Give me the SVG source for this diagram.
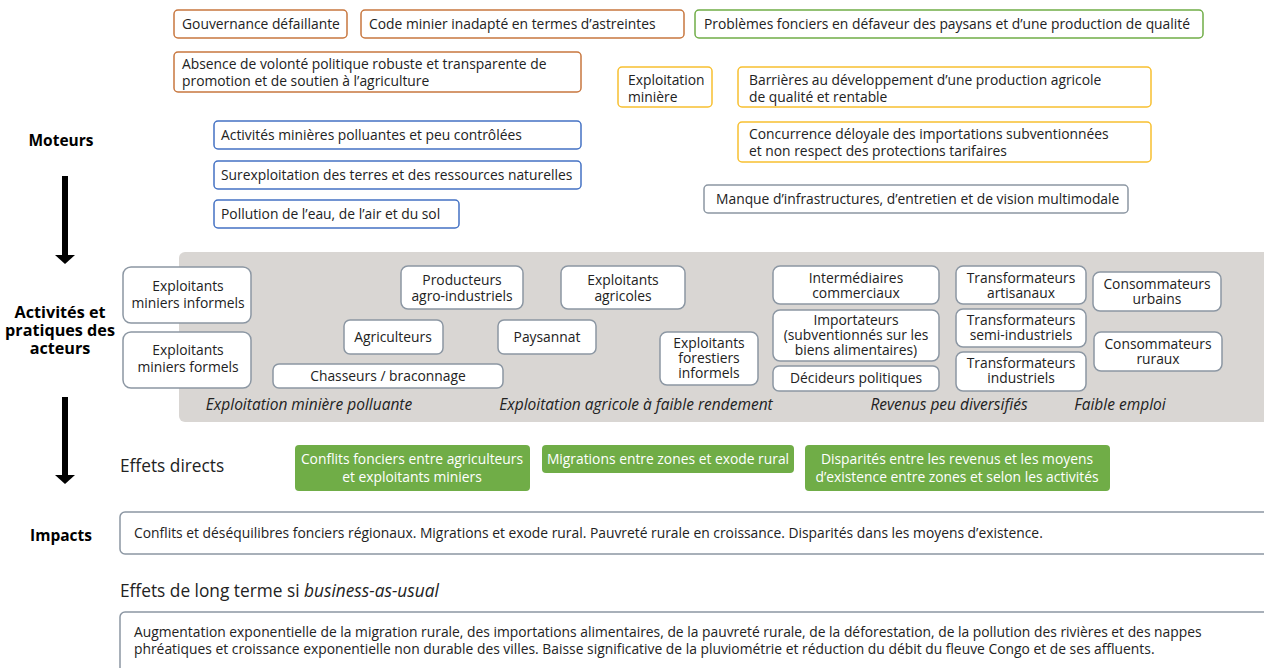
<svg xmlns="http://www.w3.org/2000/svg" width="1264" height="668" viewBox="0 0 1264 668">
  <defs>
    <style>
      text { font-family: "Open Sans", "Noto Sans", "DejaVu Sans", sans-serif; font-size: 13.85px; fill: #222222; }
      .lbl { font-weight: bold; font-size: 15.5px; fill: #000; text-anchor: middle; }
      .lbl2 { font-weight: bold; font-size: 16.2px; fill: #000; text-anchor: middle; }
      .sec { font-size: 17.3px; fill: #222222; }
      .ctr { text-anchor: middle; }
      .ital { font-style: italic; font-size: 15.5px; text-anchor: middle; }
      .wht { fill: #ffffff; }
      .box { fill: #ffffff; stroke-width: 1.5; }
      .orange { stroke: #c8773f; }
      .green { stroke: #70ad47; }
      .yellow { stroke: #f8c030; }
      .blue { stroke: #4472c4; }
      .slate { stroke: #8c97a3; }
      .actor { fill: #ffffff; stroke: #8c97a3; stroke-width: 1.5; }
      .effect { fill: #70ad47; }
      .band { fill: #d9d6d3; }
      .flow { stroke: #000; stroke-width: 6; fill: none; }
    </style>
    <marker id="head" viewBox="0 0 9 20" refX="0" refY="10" markerWidth="9" markerHeight="20" markerUnits="userSpaceOnUse" orient="auto">
      <path d="M0 0 L9 10 L0 20 Z" fill="#000"/>
    </marker>
  </defs>

  <rect x="0" y="0" width="1264" height="668" fill="#ffffff"/>

  <!-- row labels -->
  <g id="labels">
    <text class="lbl" x="61" y="146">Moteurs</text>
    <text class="lbl2" x="60" y="318">Activités et</text>
    <text class="lbl2" x="60" y="336">pratiques des</text>
    <text class="lbl2" x="60" y="354">acteurs</text>
    <text class="lbl" x="61" y="541">Impacts</text>
  </g>

  <!-- downward flow arrows -->
  <g id="connectors">
    <line class="flow" x1="65" y1="176" x2="65" y2="255" marker-end="url(#head)"/>
    <line class="flow" x1="65" y1="397" x2="65" y2="475" marker-end="url(#head)"/>
  </g>

  <!-- drivers -->
  <g id="n-gouvernance">
    <rect class="box orange" x="174" y="10" width="173" height="28" rx="4"/>
    <text x="182" y="29">Gouvernance défaillante</text>
  </g>
  <g id="n-code-minier">
    <rect class="box orange" x="361" y="10" width="323" height="28" rx="4"/>
    <text x="369" y="29">Code minier inadapté en termes d’astreintes</text>
  </g>
  <g id="n-fonciers">
    <rect class="box green" x="695" y="10" width="508" height="28" rx="4"/>
    <text x="704" y="29">Problèmes fonciers en défaveur des paysans et d’une production de qualité</text>
  </g>
  <g id="n-volonte">
    <rect class="box orange" x="174" y="52" width="407" height="40" rx="4"/>
    <text x="182" y="69">Absence de volonté politique robuste et transparente de</text>
    <text x="182" y="86">promotion et de soutien à l’agriculture</text>
  </g>
  <g id="n-exploitation-miniere">
    <rect class="box yellow" x="618" y="67" width="94" height="40" rx="4"/>
    <text x="628" y="85">Exploitation</text>
    <text x="628" y="102">minière</text>
  </g>
  <g id="n-barrieres">
    <rect class="box yellow" x="738" y="67" width="413" height="40" rx="4"/>
    <text x="749" y="85">Barrières au développement d’une production agricole</text>
    <text x="749" y="102">de qualité et rentable</text>
  </g>
  <g id="n-concurrence">
    <rect class="box yellow" x="738" y="122" width="413" height="40" rx="4"/>
    <text x="749" y="139">Concurrence déloyale des importations subventionnées</text>
    <text x="749" y="156">et non respect des protections tarifaires</text>
  </g>
  <g id="n-activites-minieres">
    <rect class="box blue" x="214" y="121" width="367" height="28" rx="4"/>
    <text x="221" y="140">Activités minières polluantes et peu contrôlées</text>
  </g>
  <g id="n-surexploitation">
    <rect class="box blue" x="214" y="161" width="367" height="28" rx="4"/>
    <text x="221" y="180">Surexploitation des terres et des ressources naturelles</text>
  </g>
  <g id="n-pollution">
    <rect class="box blue" x="214" y="200" width="245" height="28" rx="4"/>
    <text x="221" y="219">Pollution de l’eau, de l’air et du sol</text>
  </g>
  <g id="n-infrastructures">
    <rect class="box slate" x="704" y="185" width="424" height="28" rx="4"/>
    <text x="716" y="204">Manque d’infrastructures, d’entretien et de vision multimodale</text>
  </g>

  <!-- actors band -->
  <g id="band-actors">
    <rect class="band" x="179" y="252" width="1095" height="170" rx="6"/>
    <text class="ital" x="309" y="410">Exploitation minière polluante</text>
    <text class="ital" x="636" y="410">Exploitation agricole à faible rendement</text>
    <text class="ital" x="949" y="410">Revenus peu diversifiés</text>
    <text class="ital" x="1120" y="410">Faible emploi</text>
  </g>
  <g id="a-miniers-informels">
    <rect class="actor" x="123" y="267" width="128" height="56" rx="8"/>
    <text class="ctr" x="188" y="291">Exploitants</text>
    <text class="ctr" x="188" y="308">miniers informels</text>
  </g>
  <g id="a-miniers-formels">
    <rect class="actor" x="123" y="332" width="128" height="56" rx="8"/>
    <text class="ctr" x="188" y="355">Exploitants</text>
    <text class="ctr" x="188" y="372">miniers formels</text>
  </g>
  <g id="a-agro-industriels">
    <rect class="actor" x="401" y="266" width="122" height="43" rx="7"/>
    <text class="ctr" x="462" y="285">Producteurs</text>
    <text class="ctr" x="462" y="301">agro-industriels</text>
  </g>
  <g id="a-exploitants-agricoles">
    <rect class="actor" x="561" y="266" width="124" height="43" rx="7"/>
    <text class="ctr" x="623" y="285">Exploitants</text>
    <text class="ctr" x="623" y="301">agricoles</text>
  </g>
  <g id="a-agriculteurs">
    <rect class="actor" x="344" y="320" width="99" height="34" rx="6"/>
    <text class="ctr" x="393" y="342">Agriculteurs</text>
  </g>
  <g id="a-paysannat">
    <rect class="actor" x="498" y="320" width="98" height="34" rx="6"/>
    <text class="ctr" x="547" y="342">Paysannat</text>
  </g>
  <g id="a-chasseurs">
    <rect class="actor" x="273" y="364" width="230" height="24" rx="6"/>
    <text class="ctr" x="388" y="381">Chasseurs / braconnage</text>
  </g>
  <g id="a-forestiers">
    <rect class="actor" x="660" y="332" width="98" height="53" rx="7"/>
    <text class="ctr" x="709" y="348">Exploitants</text>
    <text class="ctr" x="709" y="363">forestiers</text>
    <text class="ctr" x="709" y="378">informels</text>
  </g>
  <g id="a-intermediaires">
    <rect class="actor" x="773" y="266" width="166" height="38" rx="7"/>
    <text class="ctr" x="856" y="283">Intermédiaires</text>
    <text class="ctr" x="856" y="298">commerciaux</text>
  </g>
  <g id="a-importateurs">
    <rect class="actor" x="773" y="310" width="166" height="51" rx="7"/>
    <text class="ctr" x="856" y="325">Importateurs</text>
    <text class="ctr" x="856" y="340">(subventionnés sur les</text>
    <text class="ctr" x="856" y="355">biens alimentaires)</text>
  </g>
  <g id="a-decideurs">
    <rect class="actor" x="773" y="366" width="166" height="25" rx="6"/>
    <text class="ctr" x="856" y="383">Décideurs politiques</text>
  </g>
  <g id="a-transf-artisanaux">
    <rect class="actor" x="956" y="266" width="130" height="38" rx="7"/>
    <text class="ctr" x="1021" y="283">Transformateurs</text>
    <text class="ctr" x="1021" y="298">artisanaux</text>
  </g>
  <g id="a-transf-semi">
    <rect class="actor" x="956" y="309" width="130" height="38" rx="7"/>
    <text class="ctr" x="1021" y="325">Transformateurs</text>
    <text class="ctr" x="1021" y="340">semi-industriels</text>
  </g>
  <g id="a-transf-industriels">
    <rect class="actor" x="956" y="352" width="130" height="39" rx="7"/>
    <text class="ctr" x="1021" y="368">Transformateurs</text>
    <text class="ctr" x="1021" y="383">industriels</text>
  </g>
  <g id="a-conso-urbains">
    <rect class="actor" x="1093" y="272" width="128" height="39" rx="7"/>
    <text class="ctr" x="1157" y="289">Consommateurs</text>
    <text class="ctr" x="1157" y="304">urbains</text>
  </g>
  <g id="a-conso-ruraux">
    <rect class="actor" x="1094" y="332" width="128" height="39" rx="7"/>
    <text class="ctr" x="1158" y="349">Consommateurs</text>
    <text class="ctr" x="1158" y="364">ruraux</text>
  </g>

  <!-- direct effects -->
  <g id="effets-directs">
    <text class="sec" x="120" y="472">Effets directs</text>
  </g>
  <g id="e-conflits">
    <rect class="effect" x="295" y="445" width="235" height="46" rx="4"/>
    <text class="ctr wht" x="412" y="464">Conflits fonciers entre agriculteurs</text>
    <text class="ctr wht" x="412" y="482">et exploitants miniers</text>
  </g>
  <g id="e-migrations">
    <rect class="effect" x="542" y="445" width="252" height="28" rx="4"/>
    <text class="ctr wht" x="668" y="464">Migrations entre zones et exode rural</text>
  </g>
  <g id="e-disparites">
    <rect class="effect" x="805" y="445" width="305" height="46" rx="4"/>
    <text class="ctr wht" x="957" y="464">Disparités entre les revenus et les moyens</text>
    <text class="ctr wht" x="957" y="482">d’existence entre zones et selon les activités</text>
  </g>

  <!-- impacts -->
  <g id="impacts">
    <rect class="box slate" x="120" y="512" width="1160" height="42" rx="5"/>
    <text x="134" y="538">Conflits et déséquilibres fonciers régionaux. Migrations et exode rural. Pauvreté rurale en croissance. Disparités dans les moyens d’existence.</text>
  </g>
  <g id="long-terme">
    <text class="sec" x="120" y="597">Effets de long terme si <tspan font-style="italic">business-as-usual</tspan></text>
    <rect class="box slate" x="120" y="612" width="1160" height="70" rx="5"/>
    <text x="134" y="637">Augmentation exponentielle de la migration rurale, des importations alimentaires, de la pauvreté rurale, de la déforestation, de la pollution des rivières et des nappes</text>
    <text x="134" y="654">phréatiques et croissance exponentielle non durable des villes. Baisse significative de la pluviométrie et réduction du débit du fleuve Congo et de ses affluents.</text>
  </g>
</svg>
